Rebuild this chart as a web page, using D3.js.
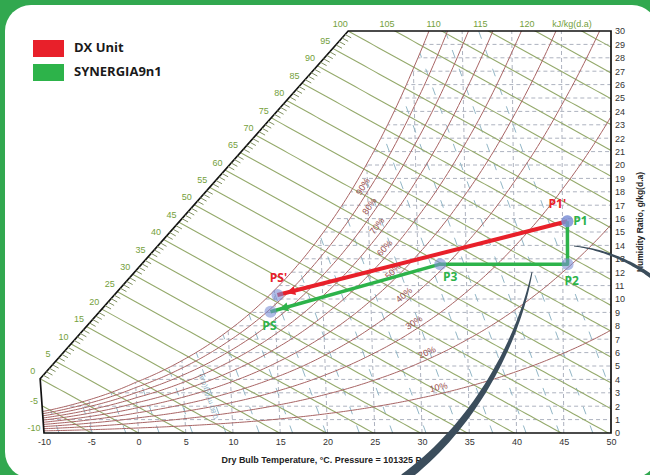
<!DOCTYPE html>
<html>
<head>
<meta charset="utf-8">
<script src="https://cdn.jsdelivr.net/npm/d3@7"></script>
<style>
html, body { margin: 0; padding: 0; background: #fff; }
svg { display: block; }
</style>
</head>
<body>
<svg id="chart" width="650" height="475"></svg>
<script>
// ---- chart values ----
const tempTicks = [-10, -5, 0, 5, 10, 15, 20, 25, 30, 35, 40, 45, 50];
const humidityTicks = [0, 1, 2, 3, 4, 5, 6, 7, 8, 9, 10, 11, 12, 13, 14, 15, 16, 17, 18, 19, 20,
  21, 22, 23, 24, 25, 26, 27, 28, 29, 30];
const enthalpyLevels = [-10, -5, 0, 5, 10, 15, 20, 25, 30, 35, 40, 45, 50, 55, 60, 65, 70, 75, 80,
  85, 90, 95, 100, 105, 110, 115, 120, 125];
const enthalpySideLabels = [0, 5, 10, 15, 20, 25, 30, 35, 40, 45, 50, 55, 60, 65, 70, 75, 80, 85, 90, 95];
const enthalpyEdgeLabels = [-5, -10];
const enthalpyTopLabels = [100, 105, 110, 115, 120];
const rhLevels = [10, 20, 30, 40, 50, 60, 70, 80, 90, 100];
const rhLabelLevels = [10, 20, 30, 40, 50, 60, 70, 80, 90];
const rhLabelTemps = [32, 31, 29.8, 28.9, 27.85, 27.1, 26.4, 25.7, 25.1];
const volumeLevels = [0.75, 0.76, 0.77, 0.78, 0.79, 0.80, 0.81, 0.82, 0.83, 0.84, 0.85, 0.86,
  0.87, 0.88, 0.89, 0.90, 0.91, 0.92];
// saturation vapour pressure, kPa
const satTemps = [-10, -5, 0, 5, 10, 15, 20, 25, 30, 35, 40, 45, 50, 55];
const satPressure = [0.2600, 0.4018, 0.6112, 0.8725, 1.2282, 1.7057, 2.3392, 3.1697, 4.2467,
  5.6286, 7.3844, 9.5944, 12.3513, 15.7520];

// process points (dry bulb °C, humidity ratio g/kg)
const dxNames = ["P1'", "PS'"];
const dxTemps = [45.5, 15.3];
const dxHumidity = [15.8, 10.3];
const synNames = ["P1", "P2", "P3", "PS"];
const synTemps = [45.5, 45.5, 32.3, 14.5];
const synHumidity = [15.8, 12.6, 12.6, 9.05];

const seriesNames = ["DX Unit", "SYNERGIA9n1"];

// ---- layout ----
const svg = d3.select("#chart");
const W = 650, H = 475;
const red = "#e8202a", green = "#2db34a";
const font = "'Liberation Sans', Arial, sans-serif";

const x = d3.scaleLinear().domain([-10, 50]).range([44, 611]);
const y = d3.scaleLinear().domain([0, 30]).range([433, 31]);
const lean = 0.0158; // dry bulb lines fan slightly
const kx = (x(50) - x(-10)) / 60;
const px = (t, w) => x(t) - lean * (50 - t) * w;
const tAt = (X, w) => (X - x(0) + 50 * lean * w) / (kx + lean * w);
const pt = (t, w) => [px(t, w), y(w)];

// psychrometrics for the chart grid
const P = 101.325;
const lnPws = d3.scaleLinear().domain(satTemps).range(satPressure.map(Math.log));
const wRH = (t, rh) => { const pv = rh / 100 * Math.exp(lnPws(t)); return 622 * pv / (P - pv); };
const wH = (t, h) => 1000 * (h - 1.006 * t) / (2501 + 1.86 * t);
const hOf = (t, w) => 1.006 * t + w / 1000 * (2501 + 1.86 * t);
const tV = (v, w) => v * P / (0.287042 * (1 + 1.607858 * w / 1000)) - 273.15;

function solve(f, a, b) {
  for (let i = 0; i < 60; i++) { const m = (a + b) / 2; if (f(a) * f(m) <= 0) b = m; else a = m; }
  return (a + b) / 2;
}

// background card
svg.append("rect").attr("width", W).attr("height", H).attr("fill", "#31a84f");
svg.append("rect").attr("x", 5).attr("y", 5).attr("width", 653).attr("height", 473)
  .attr("rx", 26).attr("fill", "#fff");

// frame geometry
const wA = wH(-10, 0);
const pA = pt(-10, wA);
const tB = solve(t => wH(t, 100) - 30, 0, 40);
const pB = pt(tB, 30);
const frame = [[x(-10), y(0)], pA, pB, [x(50), y(30)], [x(50), y(0)]];
const tSat30 = solve(t => wRH(t, 100) - 30, 0, 45);
const satPoly = d3.range(-10, tSat30, 0.25).map(t => pt(t, wRH(t, 100)))
  .concat([pt(tSat30, 30), [x(50), y(30)], [x(50), y(0)], [x(-10), y(0)]]);

const defs = svg.append("defs");
defs.append("clipPath").attr("id", "plotClip").append("path").attr("d", "M" + frame.join("L") + "Z");
defs.append("clipPath").attr("id", "satClip").append("path").attr("d", "M" + satPoly.join("L") + "Z");

const line = d3.line();

// dashed grid and volume lines below saturation
const gGrid = svg.append("g").attr("clip-path", "url(#satClip)");
humidityTicks.filter(w => w > 0 && w < 30).forEach(w => {
  gGrid.append("path").attr("d", line([pt(-10, w), pt(50, w)]))
    .attr("fill", "none").attr("stroke", "#adb2bf").attr("stroke-width", 1).attr("stroke-dasharray", "4,3");
});
tempTicks.filter(t => t > -10 && t < 50).forEach(t => {
  gGrid.append("path").attr("d", line([pt(t, 0), pt(t, 30)]))
    .attr("fill", "none").attr("stroke", "#adb2bf").attr("stroke-width", 1).attr("stroke-dasharray", "4,3");
});
volumeLevels.forEach(v => {
  const pts = d3.range(0, 31, 1).map(w => pt(tV(v, w), w));
  gGrid.append("path").attr("d", line(pts))
    .attr("fill", "none").attr("stroke", "#86aec0").attr("stroke-width", 0.9).attr("stroke-dasharray", "8,12");
});

// enthalpy and RH lines
const gLines = svg.append("g").attr("clip-path", "url(#plotClip)");
enthalpyLevels.forEach(h => {
  const pts = d3.range(-12, 52.01, 0.5).map(t => pt(t, wH(t, h)));
  gLines.append("path").attr("d", line(pts))
    .attr("fill", "none").attr("stroke", "#95aa6c").attr("stroke-width", 1.1);
});
rhLevels.forEach(rh => {
  const pts = d3.range(-10, 50.01, 0.25).map(t => pt(t, wRH(t, rh)));
  gLines.append("path").attr("d", line(pts))
    .attr("fill", "none").attr("stroke", "#a86464").attr("stroke-width", 1);
});

// volume label
{
  const v = 0.80, a = pt(tV(v, 0.3), 0.3), b = pt(tV(v, 5.2), 5.2);
  const ang = Math.atan2(a[1] - b[1], a[0] - b[0]) * 180 / Math.PI;
  svg.append("text").attr("transform", `translate(${(a[0] + b[0]) / 2 - 4},${(a[1] + b[1]) / 2}) rotate(${ang - 180})`)
    .attr("text-anchor", "middle").attr("dominant-baseline", "middle")
    .attr("font-family", font).attr("font-size", 7).attr("fill", "#6e9cb2").attr("opacity", 0.8)
    .text("0.80 m³/kg(d.a)");
}

// frame
svg.append("path").attr("d", "M" + frame.join("L") + "Z")
  .attr("fill", "none").attr("stroke", "#111").attr("stroke-width", 1.7);

// diagonal enthalpy scale
const dLen = Math.hypot(pB[0] - pA[0], pB[1] - pA[1]);
const dir = [(pB[0] - pA[0]) / dLen, (pB[1] - pA[1]) / dLen];
const nrm = [dir[1], -dir[0]];
function onDiag(h) {
  const s = solve(s => {
    const X = pA[0] + s * (pB[0] - pA[0]), Y = pA[1] + s * (pB[1] - pA[1]);
    const w = y.invert(Y);
    return hOf(tAt(X, w), w) - h;
  }, -0.01, 1.01);
  const X = pA[0] + s * (pB[0] - pA[0]), Y = pA[1] + s * (pB[1] - pA[1]);
  return { X, Y, w: y.invert(Y), t: tAt(X, y.invert(Y)) };
}
const gHatch = svg.append("g");
d3.range(1, 100).filter(h => h % 5 !== 0).forEach(h => {
  const q = onDiag(h);
  const q2 = pt(q.t + 1, wH(q.t + 1, h));
  const L = Math.hypot(q2[0] - q.X, q2[1] - q.Y);
  gHatch.append("line").attr("x1", q.X).attr("y1", q.Y)
    .attr("x2", q.X + (q2[0] - q.X) / L * 7).attr("y2", q.Y + (q2[1] - q.Y) / L * 7)
    .attr("stroke", "#7f9060").attr("stroke-width", 1);
});

const labelGreen = "#74a03c";
enthalpySideLabels.forEach(h => {
  const q = onDiag(h);
  svg.append("text").attr("x", q.X + nrm[0] * 10).attr("y", q.Y + nrm[1] * 10)
    .attr("text-anchor", "middle").attr("dominant-baseline", "middle")
    .attr("font-family", font).attr("font-size", 9).attr("fill", labelGreen).text(h);
});
enthalpyEdgeLabels.forEach(h => {
  const Y = y(Math.max(wH(-10, h), 0));
  svg.append("text").attr("x", x(-10) - 10).attr("y", Y - 4)
    .attr("text-anchor", "middle").attr("dominant-baseline", "middle")
    .attr("font-family", font).attr("font-size", 9).attr("fill", labelGreen).text(h);
});
enthalpyTopLabels.forEach(h => {
  const t = solve(t => wH(t, h) - 30, -10, 60);
  svg.append("text").attr("x", px(t, 30) - 8).attr("y", 25)
    .attr("text-anchor", "middle").attr("dominant-baseline", "middle")
    .attr("font-family", font).attr("font-size", 9).attr("fill", labelGreen).text(h);
});
svg.append("text").attr("x", 572).attr("y", 25)
  .attr("text-anchor", "middle").attr("dominant-baseline", "middle")
  .attr("font-family", font).attr("font-size", 9).attr("fill", labelGreen).text("kJ/kg(d.a)");

// RH labels
rhLabelLevels.forEach((rh, i) => {
  const t = rhLabelTemps[i];
  const a = pt(t - 0.2, wRH(t - 0.2, rh)), b = pt(t + 0.2, wRH(t + 0.2, rh)), c = pt(t, wRH(t, rh));
  const L = Math.hypot(b[0] - a[0], b[1] - a[1]);
  const tx = (b[0] - a[0]) / L, ty = (b[1] - a[1]) / L;
  const cx = c[0] + ty * 6, cy = c[1] - tx * 6;
  svg.append("text").attr("transform", `translate(${cx},${cy}) rotate(${Math.atan2(ty, tx) * 180 / Math.PI})`)
    .attr("text-anchor", "middle").attr("dominant-baseline", "middle")
    .attr("font-family", font).attr("font-size", 9).attr("fill", "#9a4e4e").text(rh + "%");
});

// axes
const xAxis = svg.append("g").attr("transform", `translate(0,${y(0)})`)
  .call(d3.axisBottom(x).tickValues(tempTicks).tickFormat(d => String(d)).tickSize(0).tickPadding(6));
const yAxis = svg.append("g").attr("transform", `translate(${x(50)},0)`)
  .call(d3.axisRight(y).tickValues(humidityTicks).tickFormat(d => String(d)).tickSize(0).tickPadding(4));
[xAxis, yAxis].forEach(g => {
  g.select(".domain").remove();
  g.selectAll("text").attr("font-family", font).attr("font-size", 9).attr("fill", "#333");
});

svg.append("text").attr("x", 324).attr("y", 463).attr("text-anchor", "middle")
  .attr("font-family", font).attr("font-size", 8.5).attr("font-weight", "bold").attr("fill", "#222")
  .attr("textLength", 205).attr("lengthAdjust", "spacingAndGlyphs")
  .text("Dry Bulb Temperature, °C. Pressure = 101325 Pa");
svg.append("text").attr("transform", "translate(643,222) rotate(-90)").attr("text-anchor", "middle")
  .attr("font-family", font).attr("font-size", 8.5).attr("font-weight", "bold").attr("fill", "#222")
  .text("Humidity Ratio, g/kg(d.a)");

// process lines
function drawProcess(temps, hum, color, width) {
  const pts = temps.map((t, i) => pt(t, hum[i]));
  svg.append("path").attr("d", line(pts)).attr("fill", "none")
    .attr("stroke", color).attr("stroke-width", width).attr("stroke-linejoin", "round");
  const e = pts[pts.length - 1], s = pts[pts.length - 2];
  const L = Math.hypot(e[0] - s[0], e[1] - s[1]);
  const u = [(e[0] - s[0]) / L, (e[1] - s[1]) / L];
  const tip = [e[0] - u[0] * 9, e[1] - u[1] * 9];
  const base = [tip[0] - u[0] * 9, tip[1] - u[1] * 9];
  svg.append("path").attr("d", "M" + [tip,
    [base[0] - u[1] * 4.5, base[1] + u[0] * 4.5],
    [base[0] + u[1] * 4.5, base[1] - u[0] * 4.5]].join("L") + "Z").attr("fill", color);
  return pts;
}
const dxPts = drawProcess(dxTemps, dxHumidity, red, 4);
const synPts = drawProcess(synTemps, synHumidity, green, 3.5);

const labelOffset = { "P1'": [-10, -16], "PS'": [1, -16], "P1": [13, 1], "P2": [4, 18], "P3": [10, 14], "PS": [-1, 15] };
[[dxPts, dxNames, red], [synPts, synNames, green]].forEach(([pts, names, color]) => {
  pts.forEach((p, i) => {
    svg.append("circle").attr("cx", p[0]).attr("cy", p[1]).attr("r", 6)
      .attr("fill", "#7c8fd6").attr("fill-opacity", 0.6);
    const o = labelOffset[names[i]];
    svg.append("text").attr("x", p[0] + o[0]).attr("y", p[1] + o[1])
      .attr("text-anchor", "middle").attr("dominant-baseline", "middle")
      .attr("font-family", "'Open Sans', sans-serif").attr("font-weight", 700).attr("font-size", 12)
      .attr("fill", color).text(names[i]);
  });
});

// legend
const legend = svg.append("g").attr("transform", "translate(33,40)");
seriesNames.forEach((n, i) => {
  legend.append("rect").attr("y", i * 24).attr("width", 31).attr("height", 17).attr("fill", i ? green : red);
  legend.append("text").attr("x", 41).attr("y", i * 24 + 9).attr("dominant-baseline", "middle")
    .attr("font-family", "'Open Sans', sans-serif").attr("font-weight", 700).attr("font-size", 13)
    .attr("fill", "#1a1a1a").text(n);
});

// decorative arcs
function taper(p, w0, w1) {
  const left = [], right = [];
  for (let i = 0; i <= 40; i++) {
    const s = i / 40, m = 1 - s;
    const bx = m * m * m * p[0][0] + 3 * m * m * s * p[1][0] + 3 * m * s * s * p[2][0] + s * s * s * p[3][0];
    const by = m * m * m * p[0][1] + 3 * m * m * s * p[1][1] + 3 * m * s * s * p[2][1] + s * s * s * p[3][1];
    const dx = 3 * m * m * (p[1][0] - p[0][0]) + 6 * m * s * (p[2][0] - p[1][0]) + 3 * s * s * (p[3][0] - p[2][0]);
    const dy = 3 * m * m * (p[1][1] - p[0][1]) + 6 * m * s * (p[2][1] - p[1][1]) + 3 * s * s * (p[3][1] - p[2][1]);
    const L = Math.hypot(dx, dy), hw = (w0 + (w1 - w0) * s) / 2;
    left.push([bx - dy / L * hw, by + dx / L * hw]);
    right.push([bx + dy / L * hw, by - dx / L * hw]);
  }
  return "M" + left.join("L") + "L" + right.reverse().join("L") + "Z";
}
svg.append("path").attr("d", taper([[574, 246], [600, 249], [628, 259], [652, 277]], 0.8, 4)).attr("fill", "#3b4d5c");
svg.append("path").attr("d", taper([[532, 272], [521, 330], [482, 420], [404, 478]], 1, 9)).attr("fill", "#3b4d5c");
</script>
</body>
</html>
